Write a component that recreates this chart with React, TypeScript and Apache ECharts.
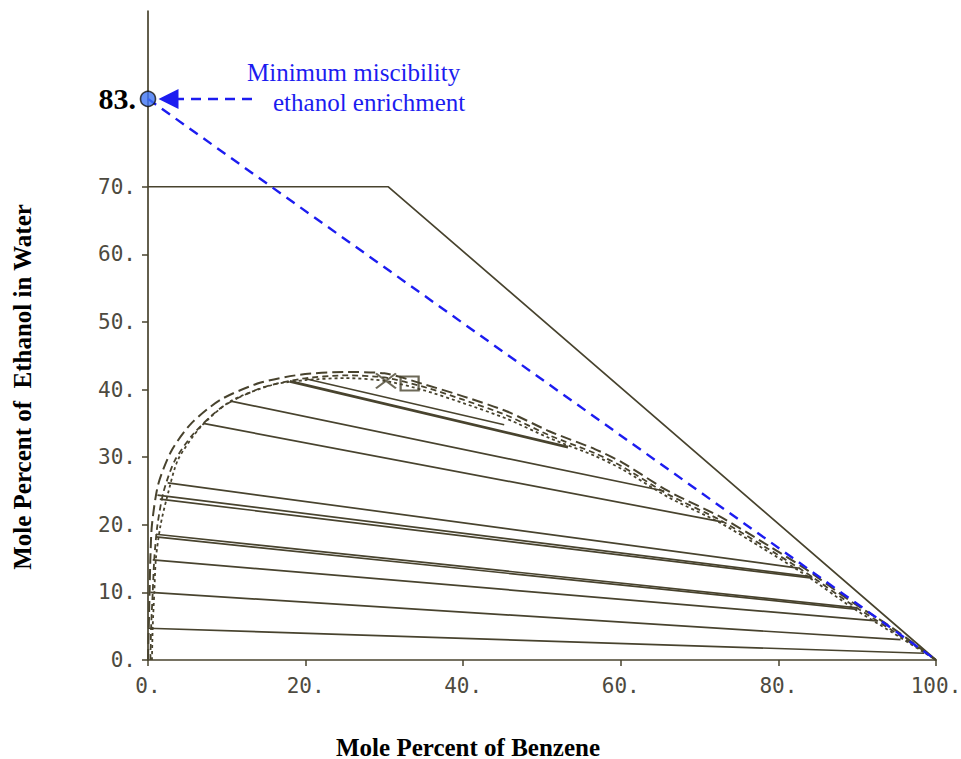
import React, { useEffect, useRef } from "react";
import * as echarts from "echarts";

// ---- data ----
const xTicks = [0, 20, 40, 60, 80, 100];
const yTicks = [0, 10, 20, 30, 40, 50, 60, 70];
const minMiscibility = 83;

// outer boundary of the region
const boundary: number[][] = [[0, 70], [30.5, 70], [100, 0]];

// binodal curves (three dashed estimates)
const binodalOuter: number[][] = [
  [0, 0], [0.1, 5], [0.2, 10], [0.3, 15], [0.5, 20], [1.3, 26], [3, 31], [5.5, 35], [9.2, 38.5],
  [14.2, 41], [19.3, 42.2], [25, 42.6], [30, 42.4], [35, 40.8], [40, 39], [45.5, 36.8], [51, 33.8],
  [56.7, 31.2], [60.2, 29.2], [66, 25], [72.6, 21.2], [78.2, 17.3], [83.4, 13.5], [89.3, 8.6],
  [94.4, 4.8], [100, 0],
];
const binodalMiddle: number[][] = [
  [0.3, 0], [0.4, 5], [0.6, 10], [0.8, 15], [1.2, 20], [2, 25], [3.4, 29.5], [5.8, 33.5], [9.5, 37.5],
  [14.5, 40.3], [19.5, 41.6], [25, 42.1], [30, 41.8], [35, 40.4], [40, 38.5], [45.5, 36.2], [51, 33.2],
  [56.7, 30.6], [60.2, 28.6], [66, 24.5], [72.6, 20.7], [78.2, 16.8], [83.4, 13], [89.3, 8.2],
  [94.4, 4.4], [100, 0],
];
const binodalInner: number[][] = [
  [0.5, 0], [0.6, 5], [0.8, 10], [1, 15], [1.6, 20], [2.4, 24], [3.8, 29.6], [6.7, 34.5], [10.5, 38.3],
  [15.8, 40.7], [20, 41.4], [25, 41.7], [30, 41.3], [35, 39.9], [40, 38], [45.5, 35.7], [51, 32.8],
  [56.7, 30.2], [60.2, 28.2], [66, 24.1], [72.6, 20.3], [78.2, 16.4], [83.4, 12.6], [89.3, 7.8],
  [94.4, 4.1], [100, 0],
];

// tie lines: [x1, y1, x2, y2]
const tieLines: number[][] = [
  [0, 4.7, 98.5, 1],
  [0.3, 10, 95.5, 3],
  [0.6, 14.8, 92.5, 5.8],
  [1, 18.6, 90, 7.7],
  [1, 18.2, 90, 7.5],
  [1.2, 24.4, 84.3, 12.3],
  [1.5, 23.8, 84.3, 12.1],
  [2.5, 26.2, 82.5, 13.6],
  [7, 35, 73, 20.4],
  [10.5, 38.3, 65.5, 25],
];
const thickTieLines: number[][] = [
  [18, 41.2, 53.3, 31.5],
  [20, 41.6, 45.2, 34.8],
];

// plot marks near the plait region
const crossMark: number[] = [30.2, 41.3];
const squareMark: number[] = [33.2, 40.9];

// minimum miscibility dilution line and arrow
const dilutionLine: number[][] = [[0, minMiscibility], [100, 0]];
const arrowLine: number[][] = [[13.2, minMiscibility], [2.6, minMiscibility]];

const INK = "#48432e";
const BLUE = "#1c1cf0";

export default function App() {
  const ref = useRef<HTMLDivElement>(null);
  useEffect(() => {
    if (!ref.current) return;
    const chart = echarts.init(ref.current, null, { renderer: "svg" });

    const tieSeries = tieLines.map((t, i) => ({
      type: "line",
      name: "tie" + i,
      data: [[t[0], t[1]], [t[2], t[3]]],
      showSymbol: false,
      lineStyle: { color: INK, width: 1.7 },
      z: 3,
    }));
    const thickSeries = thickTieLines.map((t, i) => ({
      type: "line",
      name: "thick" + i,
      data: [[t[0], t[1]], [t[2], t[3]]],
      showSymbol: false,
      lineStyle: { color: INK, width: i === 0 ? 2.8 : 1.7 },
      z: 3,
    }));

    const option: any = {
      animation: false,
      backgroundColor: "#ffffff",
      grid: { left: 148, right: 25, top: 11, bottom: 99, containLabel: false, outerBoundsMode: "none" },
      xAxis: {
        type: "value",
        min: 0,
        max: 100,
        interval: 20,
        splitLine: { show: false },
        axisLine: { lineStyle: { color: INK, width: 1.7 } },
        axisTick: { show: true, length: 6, customValues: xTicks, lineStyle: { color: INK, width: 1.5 } },
        axisLabel: {
          customValues: xTicks,
          formatter: (v: number) => v + ".",
          color: "#4d4a40",
          fontFamily: "DejaVu Sans Mono",
          fontSize: 21,
          margin: 15,
        },
      },
      yAxis: {
        type: "value",
        min: 0,
        max: 96,
        splitLine: { show: false },
        axisLine: { lineStyle: { color: INK, width: 1.7 } },
        axisTick: { show: true, length: 6, customValues: yTicks, lineStyle: { color: INK, width: 1.5 } },
        axisLabel: {
          customValues: [...yTicks, minMiscibility],
          formatter: (v: number) => (v === minMiscibility ? "{b|" + v + ".}" : v + "."),
          color: "#4d4a40",
          fontFamily: "DejaVu Sans Mono",
          fontSize: 21,
          margin: 12,
          rich: {
            b: {
              fontFamily: "Liberation Serif",
              fontWeight: "bold",
              fontSize: 30,
              color: "#000",
            },
          },
        },
      },
      series: [
        {
          type: "line",
          name: "boundary",
          data: boundary,
          showSymbol: false,
          lineStyle: { color: INK, width: 1.7 },
          z: 3,
        },
        {
          type: "line",
          name: "binodalOuter",
          data: binodalOuter,
          smooth: 0.25,
          showSymbol: false,
          lineStyle: { color: INK, width: 2, type: [11, 5] },
          z: 3,
        },
        {
          type: "line",
          name: "binodalMiddle",
          data: binodalMiddle,
          smooth: 0.25,
          showSymbol: false,
          lineStyle: { color: INK, width: 1.8, type: [6, 4] },
          z: 3,
        },
        {
          type: "line",
          name: "binodalInner",
          data: binodalInner,
          smooth: 0.25,
          showSymbol: false,
          lineStyle: { color: INK, width: 1.8, type: [3, 3] },
          z: 3,
        },
        ...tieSeries,
        ...thickSeries,
        {
          type: "scatter",
          name: "cross",
          data: [crossMark],
          symbol: "path://M0,0L10,8M10,0L0,8",
          symbolSize: [20, 15],
          itemStyle: { color: "transparent", borderColor: INK, borderWidth: 2 },
          z: 4,
        },
        {
          type: "scatter",
          name: "square",
          data: [squareMark],
          symbol: "rect",
          symbolSize: [18, 14],
          itemStyle: { color: "transparent", borderColor: INK, borderWidth: 2 },
          z: 4,
        },
        {
          type: "line",
          name: "dilution",
          data: dilutionLine,
          showSymbol: false,
          clip: false,
          lineStyle: { color: BLUE, width: 2.4, type: [10, 7] },
          z: 5,
        },
        {
          type: "lines",
          coordinateSystem: "cartesian2d",
          name: "arrow",
          data: [{ coords: arrowLine }],
          symbol: ["none", "triangle"],
          symbolSize: [18, 20],
          lineStyle: { color: BLUE, width: 2.4, type: [10, 7], opacity: 1 },
          z: 5,
        },
        {
          type: "scatter",
          name: "minimum",
          data: [[0, minMiscibility]],
          symbolSize: 15,
          clip: false,
          itemStyle: { color: "#3f74f4", borderColor: "#111", borderWidth: 1.6 },
          z: 6,
        },
      ],
      graphic: [
        {
          type: "text",
          x: 22,
          y: 387,
          rotation: Math.PI / 2,
          style: {
            text: "Mole Percent of  Ethanol in Water",
            fontFamily: "Liberation Serif",
            fontWeight: "bold",
            fontSize: 25,
            fill: "#000",
            align: "center",
            verticalAlign: "middle",
          },
        },
        {
          type: "text",
          x: 468,
          y: 747,
          style: {
            text: "Mole Percent of Benzene",
            fontFamily: "Liberation Serif",
            fontWeight: "bold",
            fontSize: 25,
            fill: "#000",
            align: "center",
            verticalAlign: "middle",
          },
        },
        {
          type: "text",
          x: 247,
          y: 72,
          style: {
            text: "Minimum miscibility",
            fontFamily: "Liberation Serif",
            fontSize: 25,
            fill: BLUE,
            align: "left",
            verticalAlign: "middle",
          },
        },
        {
          type: "text",
          x: 273,
          y: 102,
          style: {
            text: "ethanol enrichment",
            fontFamily: "Liberation Serif",
            fontSize: 25,
            fill: BLUE,
            align: "left",
            verticalAlign: "middle",
          },
        },
      ],
    };
    chart.setOption(option);
    return () => chart.dispose();
  }, []);
  return (
    <div
      ref={ref}
      style={{ position: "fixed", left: 0, top: 0, width: 961, height: 759 }}
    />
  );
}
